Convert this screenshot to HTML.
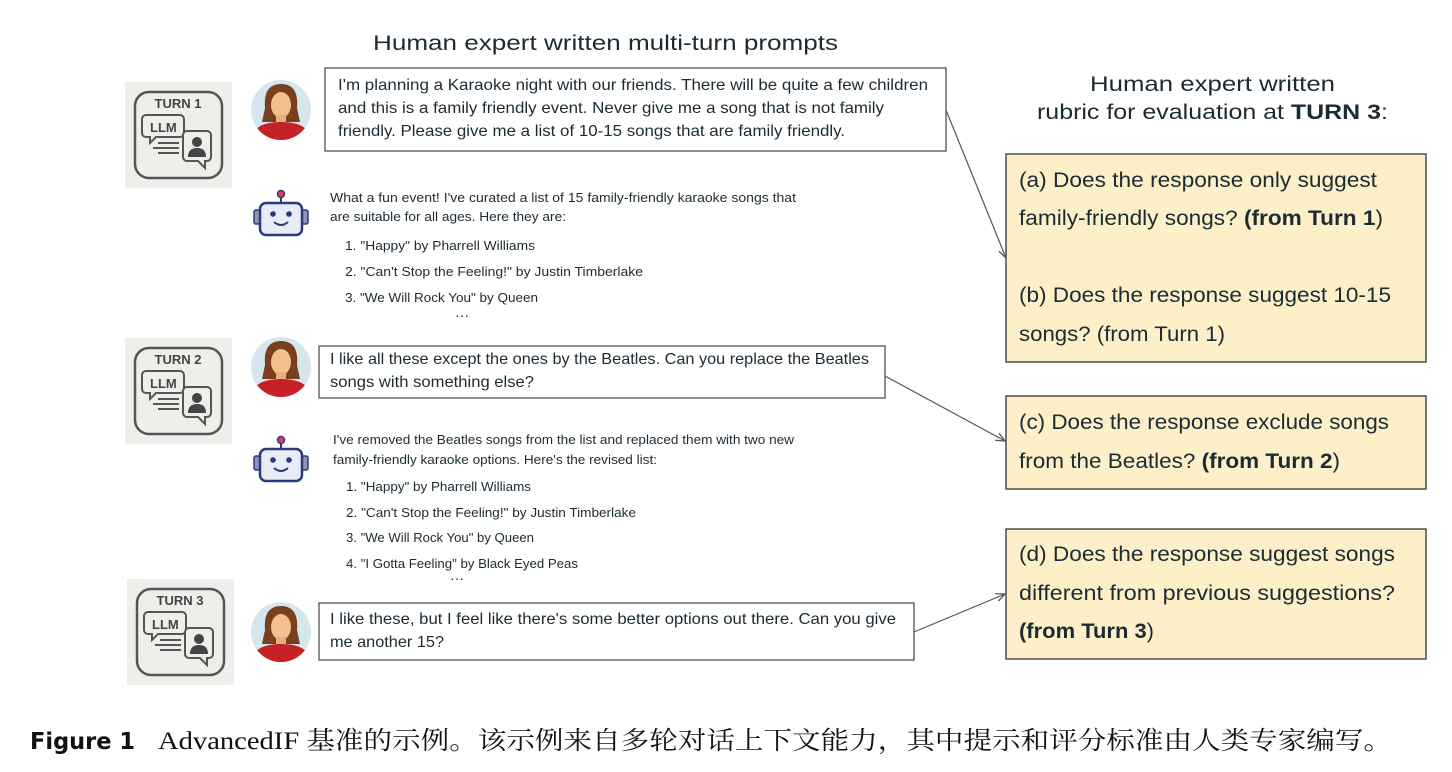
<!DOCTYPE html>
<html><head><meta charset="utf-8"><style>
html,body{margin:0;padding:0;background:#fff;}
svg{display:block}
.s{font-family:"Liberation Sans","Noto Sans CJK SC",sans-serif;fill:#1c2b33}
</style></head><body>
<svg width="1452" height="772" viewBox="0 0 1452 772" xmlns="http://www.w3.org/2000/svg">
<defs>
<g id="turn">
  <rect x="0" y="0" width="107" height="106" fill="#efeeeb"/>
  <rect x="10" y="10" width="87" height="86" rx="14" fill="none" stroke="#555" stroke-width="2.5"/>
  <path d="M21 33 h34 a4 4 0 0 1 4 4 v14 a4 4 0 0 1 -4 4 h-24 l-6 6 v-6 h-4 a4 4 0 0 1 -4 -4 v-14 a4 4 0 0 1 4 -4z" fill="#efeeeb" stroke="#555" stroke-width="2"/>
  <text x="25" y="50" font-family="Liberation Sans,sans-serif" font-weight="bold" font-size="13" fill="#444">LLM</text>
  <line x1="33" y1="61" x2="54" y2="61" stroke="#555" stroke-width="2"/>
  <line x1="28" y1="66" x2="54" y2="66" stroke="#555" stroke-width="2"/>
  <line x1="33" y1="71" x2="54" y2="71" stroke="#555" stroke-width="2"/>
  <path d="M62 49 h20 a4 4 0 0 1 4 4 v22 a4 4 0 0 1 -4 4 h-2 v7 l-7 -7 h-11 a4 4 0 0 1 -4 -4 v-22 a4 4 0 0 1 4 -4z" fill="#efeeeb" stroke="#555" stroke-width="2"/>
  <circle cx="72" cy="60" r="5" fill="#444"/>
  <path d="M63 75 q0 -9 9 -9 q9 0 9 9z" fill="#444"/>
</g>
<g id="woman">
  <circle cx="0" cy="0" r="30" fill="#d6e6ef"/>
  <clipPath id="cc"><circle cx="0" cy="0" r="30"/></clipPath>
  <g clip-path="url(#cc)">
    <path d="M-16 -2 q-2 -24 16 -24 q18 0 16 24 l3 14 h-38z" fill="#7a3f1c"/>
    <ellipse cx="0" cy="-5" rx="10" ry="13" fill="#f2c08e"/>
    <rect x="-5" y="5" width="10" height="10" fill="#e8b07c"/>
    <path d="M-30 30 q2 -18 30 -18 q28 0 30 18z" fill="#c62127"/>
  </g>
</g>
<g id="robot">
  <line x1="0" y1="-18" x2="0" y2="-11" stroke="#2a3a7a" stroke-width="2"/>
  <circle cx="0" cy="-20" r="3.5" fill="#e63a5a" stroke="#2a3a7a" stroke-width="1.5"/>
  <rect x="-27" y="-4" width="6" height="14" rx="2" fill="#8c95b8" stroke="#2a3a7a" stroke-width="1.5"/>
  <rect x="21" y="-4" width="6" height="14" rx="2" fill="#8c95b8" stroke="#2a3a7a" stroke-width="1.5"/>
  <rect x="-21" y="-11" width="42" height="32" rx="6" fill="#e8ecf6" stroke="#2a3a7a" stroke-width="2.5"/>
  <circle cx="-8" cy="0" r="2.8" fill="#2a3a7a"/><circle cx="8" cy="0" r="2.8" fill="#2a3a7a"/>
  <path d="M-7 8 q7 6 14 0" fill="none" stroke="#2a3a7a" stroke-width="2"/>
</g>
<marker id="ah" markerWidth="10" markerHeight="10" refX="9" refY="5" orient="auto" markerUnits="userSpaceOnUse"><path d="M0 1 L9 5 L0 9" fill="none" stroke="#555" stroke-width="1.3"/></marker>
</defs>

<text class="s" x="373" y="50" font-size="21" textLength="465" lengthAdjust="spacingAndGlyphs">Human expert written multi-turn prompts</text>

<use href="#turn" x="125" y="82"/>
<text x="178" y="108" font-family="Liberation Sans,sans-serif" font-weight="bold" font-size="13" fill="#444" text-anchor="middle">TURN 1</text>
<use href="#turn" x="125" y="338"/>
<text x="178" y="364" font-family="Liberation Sans,sans-serif" font-weight="bold" font-size="13" fill="#444" text-anchor="middle">TURN 2</text>
<use href="#turn" x="127" y="579"/>
<text x="180" y="605" font-family="Liberation Sans,sans-serif" font-weight="bold" font-size="13" fill="#444" text-anchor="middle">TURN 3</text>

<use href="#woman" x="281" y="110"/>
<use href="#woman" x="281" y="367"/>
<use href="#woman" x="281" y="632"/>
<use href="#robot" x="281" y="214"/>
<use href="#robot" x="281" y="460"/>

<rect x="325" y="68" width="621" height="83" fill="#fff" stroke="#444" stroke-width="1.2"/>
<g class="s" font-size="16" lengthAdjust="spacingAndGlyphs">
<text x="338" y="90" textLength="590" lengthAdjust="spacingAndGlyphs">I'm planning a Karaoke night with our friends. There will be quite a few children</text>
<text x="338" y="113" textLength="546" lengthAdjust="spacingAndGlyphs">and this is a family friendly event. Never give me a song that is not family</text>
<text x="338" y="136" textLength="507" lengthAdjust="spacingAndGlyphs">friendly. Please give me a list of 10-15 songs that are family friendly.</text>
</g>
<g class="s" font-size="12.8">
<text x="330" y="202" textLength="466" lengthAdjust="spacingAndGlyphs">What a fun event! I've curated a list of 15 family-friendly karaoke songs that</text>
<text x="330" y="221" textLength="236" lengthAdjust="spacingAndGlyphs">are suitable for all ages. Here they are:</text>
<text x="345" y="250" textLength="190" lengthAdjust="spacingAndGlyphs">1. "Happy" by Pharrell Williams</text>
<text x="345" y="276" textLength="298" lengthAdjust="spacingAndGlyphs">2. "Can't Stop the Feeling!" by Justin Timberlake</text>
<text x="345" y="302" textLength="193" lengthAdjust="spacingAndGlyphs">3. "We Will Rock You" by Queen</text>
<text x="455" y="320" font-size="14">···</text>
</g>

<rect x="319" y="346" width="566" height="52" fill="#fff" stroke="#444" stroke-width="1.2"/>
<g class="s" font-size="16">
<text x="330" y="364" textLength="539" lengthAdjust="spacingAndGlyphs">I like all these except the ones by the Beatles. Can you replace the Beatles</text>
<text x="330" y="387" textLength="204" lengthAdjust="spacingAndGlyphs">songs with something else?</text>
</g>
<g class="s" font-size="12.8">
<text x="333" y="444" textLength="461" lengthAdjust="spacingAndGlyphs">I've removed the Beatles songs from the list and replaced them with two new</text>
<text x="333" y="464" textLength="324" lengthAdjust="spacingAndGlyphs">family-friendly karaoke options. Here's the revised list:</text>
<text x="346" y="491" textLength="185" lengthAdjust="spacingAndGlyphs">1. "Happy" by Pharrell Williams</text>
<text x="346" y="517" textLength="290" lengthAdjust="spacingAndGlyphs">2. "Can't Stop the Feeling!" by Justin Timberlake</text>
<text x="346" y="542" textLength="188" lengthAdjust="spacingAndGlyphs">3. "We Will Rock You" by Queen</text>
<text x="346" y="568" textLength="232" lengthAdjust="spacingAndGlyphs">4. "I Gotta Feeling" by Black Eyed Peas</text>
<text x="450" y="583" font-size="14">···</text>
</g>

<rect x="319" y="603" width="595" height="57" fill="#fff" stroke="#444" stroke-width="1.2"/>
<g class="s" font-size="16">
<text x="330" y="624" textLength="566" lengthAdjust="spacingAndGlyphs">I like these, but I feel like there's some better options out there. Can you give</text>
<text x="330" y="647" textLength="114" lengthAdjust="spacingAndGlyphs">me another 15?</text>
</g>

<g class="s" font-size="21.5">
<text x="1090" y="91" textLength="245" lengthAdjust="spacingAndGlyphs">Human expert written</text>
<text x="1037" y="119" textLength="351" lengthAdjust="spacingAndGlyphs">rubric for evaluation at <tspan font-weight="bold">TURN 3</tspan>:</text>
</g>

<g fill="#fdf0c8" stroke="#333" stroke-width="1.3">
<rect x="1006" y="154" width="420" height="208"/>
<rect x="1006" y="396" width="420" height="93"/>
<rect x="1006" y="529" width="420" height="130"/>
</g>
<g class="s" font-size="21">
<text x="1019" y="187" textLength="358" lengthAdjust="spacingAndGlyphs">(a) Does the response only suggest</text>
<text x="1019" y="225" textLength="364" lengthAdjust="spacingAndGlyphs">family-friendly songs? <tspan font-weight="bold">(from Turn 1</tspan>)</text>
<text x="1019" y="302" textLength="372" lengthAdjust="spacingAndGlyphs">(b) Does the response suggest 10-15</text>
<text x="1019" y="341" textLength="206" lengthAdjust="spacingAndGlyphs">songs? (from Turn 1)</text>
<text x="1019" y="429" textLength="370" lengthAdjust="spacingAndGlyphs">(c) Does the response exclude songs</text>
<text x="1019" y="468" textLength="321" lengthAdjust="spacingAndGlyphs">from the Beatles? <tspan font-weight="bold">(from Turn 2</tspan>)</text>
<text x="1019" y="561" textLength="376" lengthAdjust="spacingAndGlyphs">(d) Does the response suggest songs</text>
<text x="1019" y="600" textLength="376" lengthAdjust="spacingAndGlyphs">different from previous suggestions?</text>
<text x="1019" y="638" textLength="135" lengthAdjust="spacingAndGlyphs"><tspan font-weight="bold">(from Turn 3</tspan>)</text>
</g>

<g stroke="#555" stroke-width="1.2" fill="none" marker-end="url(#ah)">
<line x1="946" y1="110" x2="1006" y2="258"/>
<line x1="885" y1="376" x2="1005" y2="441"/>
<line x1="914" y1="632" x2="1005" y2="594"/>
</g>

<text x="30" y="749" font-size="23" fill="#111" font-family="DejaVu Sans,sans-serif" font-weight="bold" textLength="105" lengthAdjust="spacingAndGlyphs">Figure 1</text>
<text x="158" y="749" font-size="25" fill="#111" font-family="Liberation Serif,'Noto Serif CJK SC',serif" textLength="1234" lengthAdjust="spacingAndGlyphs">AdvancedIF 基准的示例。该示例来自多轮对话上下文能力，其中提示和评分标准由人类专家编写。</text>
</svg>
</body></html>
